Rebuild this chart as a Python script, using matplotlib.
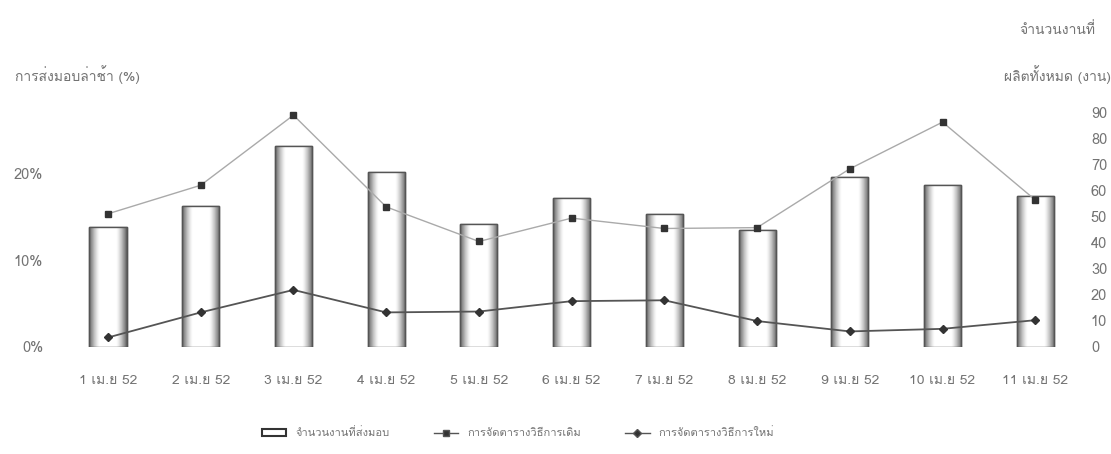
import numpy as np
import matplotlib
matplotlib.use("Agg")
import matplotlib.pyplot as plt
from matplotlib import font_manager
from matplotlib.ft2font import FT2Font
from matplotlib.patches import Patch
from matplotlib.lines import Line2D

# look for any installed font that has Thai glyphs
thai_font = None
for f in font_manager.fontManager.ttflist:
    try:
        if 0x0E01 in FT2Font(f.fname).get_charmap():
            thai_font = f.name
            break
    except Exception:
        pass
fams = ([thai_font] if thai_font else []) + ["DejaVu Sans"]
plt.rcParams["font.family"] = fams

labels = ["1 เม.ย 52", "2 เม.ย 52", "3 เม.ย 52", "4 เม.ย 52", "5 เม.ย 52", "6 เม.ย 52",
          "7 เม.ย 52", "8 เม.ย 52", "9 เม.ย 52", "10 เม.ย 52", "11 เม.ย 52"]
jobs = [46, 54, 77, 67, 47, 57, 51, 45, 65, 62, 58]
old_pct = [15.4, 18.7, 26.8, 16.2, 12.2, 14.9, 13.7, 13.8, 20.6, 26.0, 17.0]
new_pct = [1.1, 4.0, 6.6, 4.0, 4.1, 5.3, 5.4, 3.0, 1.8, 2.1, 3.1]

txt = "#737373"
fig = plt.figure(figsize=(11.11, 4.54), dpi=100)
ax = fig.add_axes([57 / 1111, 1 - 347 / 454, 1020 / 1111, 247 / 454])
ax2 = ax.twinx()
x = np.arange(len(jobs))
w = 0.4

bars = ax.bar(x, jobs, width=w, color="white", edgecolor="#555555", linewidth=1.0, zorder=2)
# shaded cylinder look
t = np.linspace(0, 1, 64)
d = np.minimum(t, 1 - t) / 0.28
prof = 1 - 0.62 * np.clip(1 - d, 0, 1) ** 1.4
grad = np.tile(prof, (2, 1))
for b in bars:
    im = ax.imshow(grad, extent=[b.get_x(), b.get_x() + b.get_width(), 0, b.get_height()],
                   aspect="auto", cmap="gray", vmin=0, vmax=1, zorder=2.5, interpolation="bilinear")
    im.set_clip_path(b)
    ax.add_patch(plt.Rectangle((b.get_x(), 0), b.get_width(), b.get_height(), fill=False,
                               edgecolor="#555555", linewidth=1.0, zorder=3))

ax.set_xlim(-0.55, 10.45)
ax.set_ylim(0, 94.6)
ax.yaxis.tick_right()
ax.set_yticks(range(0, 91, 10))
ax.set_xticks(x)
ax.set_xticklabels(labels)
ax.tick_params(axis="x", length=0, pad=20, labelsize=10, labelcolor=txt)
ax.tick_params(axis="y", length=0, pad=10, labelsize=10.5, labelcolor=txt)
for s in ax.spines.values():
    s.set_visible(False)

ax2.yaxis.tick_left()
ax2.set_ylim(0, 247 / 8.65)
ax2.set_yticks([0, 10, 20])
ax2.set_yticklabels(["0%", "10%", "20%"])
ax2.tick_params(axis="y", length=0, pad=10, labelsize=10.5, labelcolor=txt)
for s in ax2.spines.values():
    s.set_visible(False)

ax2.plot(x, old_pct, color="#aaaaaa", linewidth=1.0, marker="s", markersize=4.5,
         markerfacecolor="#333333", markeredgecolor="#333333", zorder=4)
ax2.plot(x, new_pct, color="#555555", linewidth=1.3, marker="D", markersize=4.5,
         markerfacecolor="#333333", markeredgecolor="#333333", zorder=4)

fig.text(15 / 1111, 1 - 75 / 454, "การส่งมอบล่าช้า (%)", fontsize=10, color=txt, va="center", ha="left")
fig.text(1057 / 1111, 1 - 30 / 454, "จำนวนงานที่", fontsize=10, color=txt, va="center", ha="center")
fig.text(1057 / 1111, 1 - 75 / 454, "ผลิตทั้งหมด (งาน)", fontsize=10, color=txt, va="center", ha="center")

handles = [
    Patch(facecolor="white", edgecolor="#333333", linewidth=1.5),
    Line2D([], [], color="#555555", marker="s", markersize=4, markerfacecolor="#333333", linewidth=1),
    Line2D([], [], color="#555555", marker="D", markersize=4, markerfacecolor="#333333", linewidth=1),
]
fig.legend(handles, ["จำนวนงานที่ส่งมอบ", "การจัดตารางวิธีการเดิม", "การจัดตารางวิธีการใหม่"],
           loc="center", bbox_to_anchor=(518 / 1111, 1 - 433 / 454), ncol=3, frameon=False,
           fontsize=8, labelcolor=txt, columnspacing=4, handlelength=2.2)

fig.savefig("out.png", dpi=100, facecolor="white")
